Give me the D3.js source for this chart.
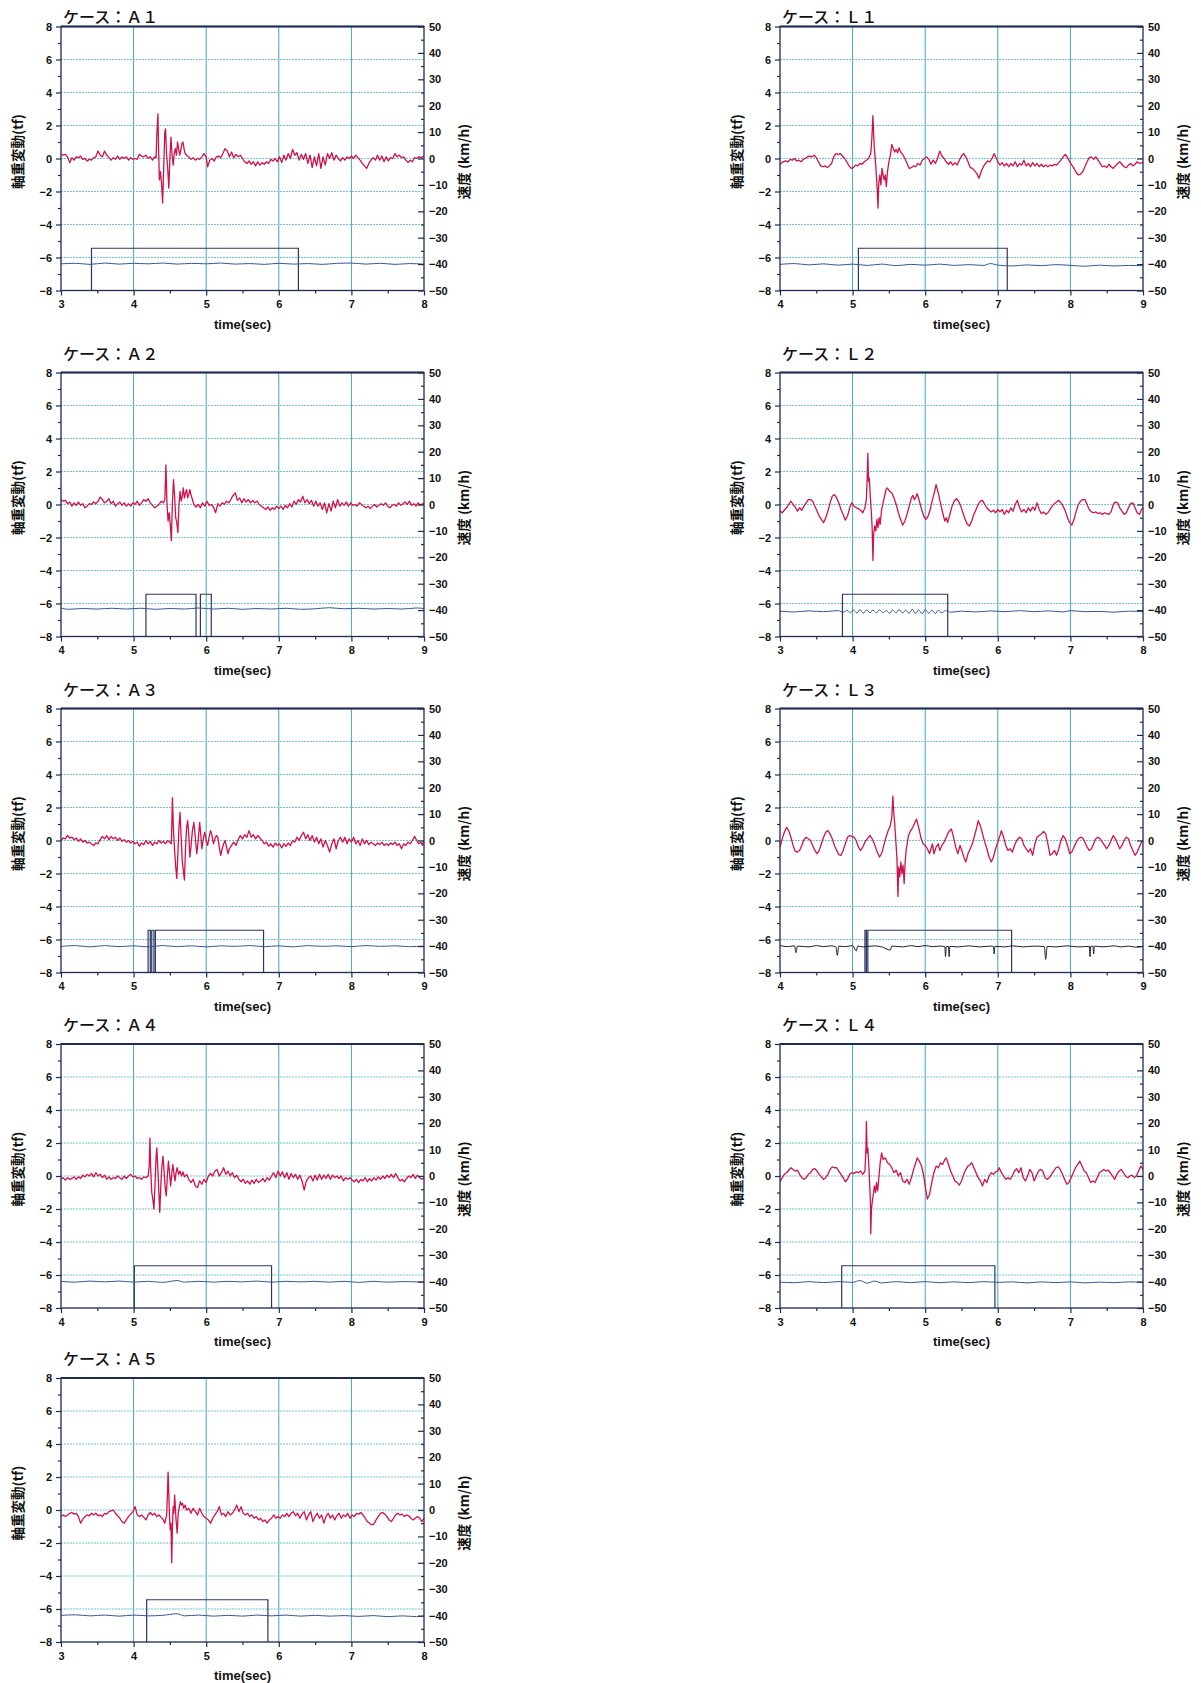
<!DOCTYPE html>
<html><head><meta charset="utf-8">
<script src="https://cdn.jsdelivr.net/npm/d3@7/dist/d3.min.js"></script>
<style>body{margin:0;background:#fff}svg{display:block}</style>
</head><body>
<svg id="chart" width="1201" height="1683"></svg>
<script>
// ---------- DATA ----------
const caseTitles = ["ケース：Ａ１","ケース：Ｌ１","ケース：Ａ２","ケース：Ｌ２","ケース：Ａ３","ケース：Ｌ３","ケース：Ａ４","ケース：Ｌ４","ケース：Ａ５"];
const timeRanges = [[3,8],[4,9],[4,9],[3,8],[4,9],[4,9],[4,9],[3,8],[3,8]];
const leftTicks = [-8,-6,-4,-2,0,2,4,6,8];
const rightTicks = [-50,-40,-30,-20,-10,0,10,20,30,40,50];
const gateLevel = -34; // km/h

// axle-load variation (tf): [time, value]
const sigA1 = [[3.00,0.25],[3.03,0.2],[3.06,0.25],[3.09,0.1],[3.12,-0.25],[3.15,0.05],[3.18,-0.1],[3.21,0.1],[3.24,0.05],[3.27,0.15],[3.30,-0.05],[3.33,0.0],[3.36,-0.15],[3.39,-0.05],[3.42,-0.1],[3.45,0.05],[3.48,0.1],[3.51,0.45],[3.54,0.2],[3.57,0.1],[3.60,0.45],[3.63,0.2],[3.66,0.05],[3.69,-0.1],[3.72,0.05],[3.75,-0.05],[3.78,0.15],[3.81,-0.05],[3.84,0.1],[3.87,0.0],[3.90,0.1],[3.93,-0.1],[3.96,0.05],[3.99,-0.05],[4.02,0.0],[4.05,-0.05],[4.08,0.25],[4.11,0.15],[4.14,0.1],[4.17,0.2],[4.20,0.0],[4.23,0.1],[4.26,-0.1],[4.29,0.1],[4.31,0.05],[4.32,1.5],[4.335,2.7],[4.345,0.5],[4.355,-1.3],[4.37,-0.8],[4.385,-1.5],[4.40,-2.7],[4.415,-0.5],[4.43,1.6],[4.44,1.8],[4.455,0.2],[4.47,-0.6],[4.485,-1.8],[4.50,0.0],[4.515,1.3],[4.53,0.2],[4.545,-0.4],[4.56,0.3],[4.575,0.6],[4.59,0.2],[4.605,1.0],[4.62,0.6],[4.635,0.2],[4.65,0.5],[4.665,0.9],[4.68,1.0],[4.695,0.6],[4.71,0.3],[4.73,0.2],[4.76,0.1],[4.79,-0.05],[4.82,0.05],[4.85,-0.1],[4.88,0.0],[4.91,-0.05],[4.94,0.1],[4.97,0.3],[5.00,0.1],[5.02,-0.5],[5.05,-0.1],[5.08,0.0],[5.11,-0.15],[5.14,0.1],[5.17,0.15],[5.20,0.05],[5.23,0.3],[5.26,0.6],[5.29,0.45],[5.32,0.1],[5.35,0.4],[5.38,0.05],[5.41,0.25],[5.44,0.1],[5.47,0.2],[5.50,0.0],[5.53,-0.2],[5.56,-0.3],[5.59,-0.15],[5.62,-0.35],[5.65,-0.2],[5.68,-0.45],[5.71,-0.2],[5.74,-0.4],[5.77,-0.25],[5.80,-0.35],[5.83,-0.2],[5.86,-0.3],[5.89,-0.05],[5.92,-0.15],[5.95,0.0],[5.98,-0.2],[6.01,0.1],[6.04,-0.25],[6.07,0.2],[6.10,-0.1],[6.13,0.3],[6.16,0.0],[6.19,0.55],[6.22,0.2],[6.25,0.35],[6.28,-0.1],[6.31,0.25],[6.34,-0.05],[6.37,0.3],[6.40,-0.3],[6.43,0.2],[6.46,-0.55],[6.49,0.1],[6.52,-0.45],[6.55,0.3],[6.58,-0.6],[6.61,0.1],[6.64,-0.4],[6.67,0.3],[6.70,0.0],[6.73,0.35],[6.76,-0.1],[6.79,0.2],[6.82,0.0],[6.85,-0.15],[6.88,0.05],[6.91,-0.1],[6.94,0.1],[6.97,0.0],[7.00,0.15],[7.03,0.0],[7.06,0.2],[7.09,0.05],[7.12,-0.1],[7.15,-0.3],[7.18,-0.45],[7.21,-0.6],[7.24,-0.3],[7.27,-0.1],[7.30,0.05],[7.33,-0.1],[7.36,0.2],[7.39,-0.1],[7.42,0.15],[7.45,-0.2],[7.48,0.1],[7.51,-0.15],[7.54,0.05],[7.57,0.0],[7.60,0.3],[7.63,0.1],[7.66,0.2],[7.69,0.05],[7.72,0.1],[7.75,-0.1],[7.78,-0.25],[7.81,-0.1],[7.84,-0.2],[7.87,0.05],[7.90,0.0],[7.93,0.1],[7.96,0.05],[8.00,0.15]];
const sigL1 = [[4.00,-0.35],[4.04,-0.2],[4.08,-0.15],[4.11,-0.2],[4.14,-0.05],[4.17,-0.1],[4.20,0.0],[4.23,-0.15],[4.26,-0.1],[4.29,-0.2],[4.32,-0.05],[4.35,0.0],[4.38,0.1],[4.41,0.15],[4.44,0.1],[4.47,0.2],[4.50,0.05],[4.53,-0.2],[4.56,-0.45],[4.59,-0.5],[4.62,-0.45],[4.65,-0.55],[4.68,-0.45],[4.71,-0.3],[4.74,0.1],[4.77,0.3],[4.80,0.25],[4.83,0.3],[4.86,0.15],[4.89,0.0],[4.92,-0.2],[4.95,-0.45],[4.98,-0.6],[5.01,-0.55],[5.04,-0.4],[5.07,-0.45],[5.10,-0.3],[5.13,-0.35],[5.16,-0.2],[5.19,-0.1],[5.22,0.0],[5.25,0.3],[5.265,1.2],[5.28,2.6],[5.29,1.5],[5.30,0.6],[5.315,-0.2],[5.33,-1.2],[5.34,-2.0],[5.35,-3.0],[5.36,-1.5],[5.375,-1.0],[5.39,-1.6],[5.405,-0.6],[5.42,-1.0],[5.435,-1.3],[5.45,-1.0],[5.465,-1.7],[5.48,-0.8],[5.50,-0.2],[5.52,0.2],[5.54,0.85],[5.56,0.6],[5.58,0.4],[5.60,0.55],[5.62,0.35],[5.64,0.65],[5.66,0.4],[5.69,0.25],[5.72,0.0],[5.75,-0.3],[5.78,-0.6],[5.81,-0.55],[5.84,-0.45],[5.87,-0.5],[5.90,-0.3],[5.93,-0.4],[5.96,-0.1],[5.99,0.0],[6.02,0.1],[6.05,-0.05],[6.08,-0.35],[6.11,-0.1],[6.14,-0.3],[6.17,0.0],[6.20,0.45],[6.23,0.15],[6.26,0.0],[6.29,-0.2],[6.32,-0.35],[6.35,-0.2],[6.38,-0.4],[6.41,-0.25],[6.44,-0.4],[6.47,-0.1],[6.50,0.15],[6.53,0.3],[6.56,0.1],[6.59,-0.2],[6.62,-0.55],[6.65,-0.6],[6.68,-0.75],[6.71,-0.9],[6.74,-1.2],[6.77,-0.8],[6.80,-0.5],[6.83,-0.3],[6.86,-0.15],[6.89,-0.2],[6.92,0.0],[6.95,0.3],[6.97,0.1],[7.00,-0.2],[7.03,-0.4],[7.06,-0.25],[7.09,-0.45],[7.12,-0.3],[7.15,-0.5],[7.18,-0.3],[7.21,-0.45],[7.24,-0.2],[7.27,-0.5],[7.30,-0.3],[7.33,-0.4],[7.36,-0.1],[7.39,-0.45],[7.42,-0.3],[7.45,-0.5],[7.48,-0.25],[7.51,-0.45],[7.54,-0.3],[7.57,-0.5],[7.60,-0.35],[7.63,-0.5],[7.66,-0.4],[7.69,-0.5],[7.72,-0.4],[7.75,-0.45],[7.78,-0.35],[7.81,-0.4],[7.84,-0.25],[7.87,-0.1],[7.90,0.1],[7.93,0.25],[7.96,0.05],[7.99,-0.2],[8.02,-0.4],[8.05,-0.6],[8.08,-0.85],[8.11,-1.0],[8.14,-0.95],[8.17,-0.8],[8.20,-0.5],[8.23,-0.2],[8.26,0.05],[8.29,0.1],[8.32,-0.05],[8.35,0.1],[8.38,-0.1],[8.41,-0.3],[8.44,-0.5],[8.47,-0.45],[8.50,-0.55],[8.53,-0.35],[8.56,-0.5],[8.59,-0.6],[8.62,-0.45],[8.65,-0.3],[8.68,-0.2],[8.71,-0.35],[8.74,-0.5],[8.77,-0.55],[8.80,-0.4],[8.83,-0.3],[8.86,-0.45],[8.89,-0.35],[8.92,-0.2],[8.95,-0.3],[9.00,-0.25]];
const sigA2 = [[4.00,0.3],[4.03,0.2],[4.06,0.25],[4.09,0.05],[4.12,0.15],[4.15,-0.1],[4.18,0.1],[4.21,-0.05],[4.24,0.15],[4.27,-0.05],[4.30,0.05],[4.33,-0.2],[4.36,-0.1],[4.39,0.05],[4.42,0.0],[4.45,0.15],[4.48,0.05],[4.51,0.2],[4.54,0.45],[4.57,0.3],[4.60,0.1],[4.63,0.2],[4.66,0.35],[4.69,0.05],[4.72,0.2],[4.75,-0.1],[4.78,0.05],[4.81,0.15],[4.84,-0.05],[4.87,0.1],[4.90,-0.1],[4.93,0.05],[4.96,-0.1],[4.99,0.1],[5.02,0.0],[5.05,0.2],[5.08,-0.05],[5.11,0.1],[5.14,0.3],[5.17,0.2],[5.20,0.35],[5.23,0.1],[5.26,-0.05],[5.29,-0.2],[5.32,-0.1],[5.35,0.0],[5.38,0.2],[5.41,0.1],[5.43,0.3],[5.445,2.4],[5.46,0.0],[5.475,-1.0],[5.49,-0.5],[5.505,-1.2],[5.52,-2.2],[5.535,0.2],[5.55,1.5],[5.565,0.5],[5.58,-0.8],[5.595,-1.1],[5.61,-1.7],[5.625,0.0],[5.64,0.8],[5.655,0.2],[5.67,0.5],[5.685,1.0],[5.70,0.4],[5.715,0.7],[5.73,0.9],[5.745,0.4],[5.76,0.6],[5.775,0.9],[5.79,0.6],[5.81,0.3],[5.83,0.0],[5.86,-0.15],[5.89,0.0],[5.92,-0.2],[5.95,0.1],[5.98,-0.1],[6.01,0.2],[6.04,-0.05],[6.07,0.0],[6.10,-0.15],[6.13,-0.5],[6.16,0.05],[6.19,-0.1],[6.22,0.1],[6.25,0.0],[6.28,0.2],[6.31,0.1],[6.34,0.3],[6.37,0.55],[6.40,0.7],[6.43,0.25],[6.46,0.4],[6.49,0.1],[6.52,0.35],[6.55,0.15],[6.58,0.3],[6.61,0.1],[6.64,0.25],[6.67,0.1],[6.70,0.2],[6.73,0.0],[6.76,-0.1],[6.79,-0.2],[6.82,-0.3],[6.85,-0.15],[6.88,-0.35],[6.91,-0.2],[6.94,-0.3],[6.97,-0.1],[7.00,-0.25],[7.03,-0.1],[7.06,-0.3],[7.09,-0.05],[7.12,-0.2],[7.15,0.05],[7.18,-0.15],[7.21,0.2],[7.24,0.0],[7.27,0.3],[7.30,0.15],[7.33,0.5],[7.36,0.1],[7.39,0.3],[7.42,0.05],[7.45,0.25],[7.48,-0.1],[7.51,0.2],[7.54,-0.1],[7.57,0.1],[7.60,-0.3],[7.63,0.1],[7.66,-0.5],[7.69,0.05],[7.72,-0.4],[7.75,0.2],[7.78,-0.2],[7.81,0.3],[7.84,-0.1],[7.87,0.1],[7.90,-0.05],[7.93,0.15],[7.96,-0.1],[7.99,0.1],[8.02,-0.05],[8.05,0.0],[8.08,-0.1],[8.11,0.1],[8.14,0.0],[8.17,-0.1],[8.20,-0.2],[8.23,-0.1],[8.26,-0.25],[8.29,-0.1],[8.32,0.0],[8.35,-0.15],[8.38,-0.05],[8.41,0.05],[8.44,-0.05],[8.47,0.1],[8.50,-0.1],[8.53,-0.2],[8.56,-0.05],[8.59,0.0],[8.62,-0.1],[8.65,0.1],[8.68,-0.05],[8.71,0.05],[8.74,0.15],[8.77,0.0],[8.80,0.2],[8.83,-0.05],[8.86,0.05],[8.89,-0.1],[8.92,0.1],[8.95,-0.05],[8.98,0.05],[9.00,0.0]];
const sigL2 = [[3.00,-0.4],[3.03,-0.5],[3.06,-0.35],[3.09,-0.2],[3.12,0.0],[3.15,0.2],[3.18,0.0],[3.21,-0.15],[3.24,-0.4],[3.27,-0.2],[3.30,-0.35],[3.33,-0.1],[3.36,0.1],[3.39,0.3],[3.42,0.3],[3.45,0.2],[3.48,-0.1],[3.51,-0.4],[3.54,-0.7],[3.57,-0.9],[3.60,-1.1],[3.63,-0.8],[3.66,-0.4],[3.69,0.1],[3.72,0.5],[3.75,0.6],[3.78,0.4],[3.81,0.1],[3.84,-0.3],[3.87,-0.6],[3.90,-0.95],[3.93,-0.7],[3.96,-0.2],[3.99,0.1],[4.02,-0.1],[4.05,-0.2],[4.08,-0.25],[4.11,-0.35],[4.14,-0.5],[4.17,-0.2],[4.19,0.3],[4.20,1.5],[4.21,3.1],[4.22,1.4],[4.23,1.6],[4.245,0.4],[4.26,-0.6],[4.27,-1.5],[4.28,-3.4],[4.29,-1.8],[4.305,-1.3],[4.32,-1.6],[4.335,-0.9],[4.35,-1.4],[4.365,-0.8],[4.38,-1.2],[4.40,-0.3],[4.43,0.3],[4.46,0.9],[4.48,1.0],[4.51,0.8],[4.54,0.7],[4.57,0.4],[4.60,0.0],[4.63,-0.5],[4.66,-0.9],[4.69,-1.25],[4.72,-1.0],[4.75,-0.6],[4.78,-0.1],[4.81,0.4],[4.83,0.55],[4.85,0.3],[4.87,0.45],[4.89,0.65],[4.92,0.2],[4.95,-0.3],[4.98,-0.7],[5.01,-0.9],[5.04,-0.7],[5.07,-0.3],[5.10,0.3],[5.13,0.8],[5.15,1.2],[5.18,0.7],[5.21,0.1],[5.24,-0.5],[5.27,-1.0],[5.29,-0.8],[5.31,-1.1],[5.34,-0.6],[5.37,-0.1],[5.40,0.2],[5.43,0.35],[5.46,0.2],[5.49,-0.1],[5.52,-0.5],[5.55,-0.9],[5.58,-1.2],[5.61,-1.3],[5.64,-1.0],[5.67,-0.6],[5.70,-0.3],[5.73,0.0],[5.76,0.2],[5.79,0.25],[5.82,0.0],[5.85,-0.2],[5.88,-0.35],[5.91,-0.45],[5.94,-0.35],[5.97,-0.5],[6.00,-0.3],[6.03,-0.45],[6.06,-0.3],[6.09,-0.6],[6.12,-0.35],[6.15,-0.5],[6.18,-0.2],[6.21,-0.4],[6.24,0.0],[6.27,0.25],[6.30,-0.2],[6.33,-0.45],[6.36,-0.3],[6.39,-0.5],[6.42,-0.2],[6.45,-0.4],[6.48,-0.15],[6.51,-0.35],[6.54,0.1],[6.57,-0.3],[6.60,-0.55],[6.63,-0.45],[6.66,-0.6],[6.69,-0.5],[6.72,-0.3],[6.75,-0.1],[6.78,0.05],[6.81,0.15],[6.84,0.25],[6.87,0.1],[6.90,-0.1],[6.93,-0.4],[6.96,-0.8],[6.99,-1.1],[7.02,-1.25],[7.05,-0.9],[7.08,-0.4],[7.11,0.0],[7.14,0.2],[7.17,0.3],[7.20,0.3],[7.23,0.0],[7.26,-0.3],[7.29,-0.45],[7.32,-0.5],[7.35,-0.45],[7.38,-0.55],[7.41,-0.5],[7.44,-0.6],[7.47,-0.5],[7.50,-0.55],[7.53,-0.6],[7.56,-0.45],[7.59,0.0],[7.62,0.15],[7.65,0.1],[7.68,-0.2],[7.71,-0.4],[7.74,-0.6],[7.77,-0.5],[7.80,-0.2],[7.83,0.05],[7.86,0.1],[7.89,-0.2],[7.92,-0.5],[7.95,-0.6],[7.98,-0.3],[8.00,-0.2]];
const sigA3 = [[4.00,0.0],[4.03,0.15],[4.06,0.1],[4.09,0.3],[4.12,0.15],[4.15,0.2],[4.18,0.05],[4.21,0.15],[4.24,-0.05],[4.27,0.1],[4.30,-0.1],[4.33,0.0],[4.36,-0.15],[4.39,-0.1],[4.42,-0.2],[4.45,-0.3],[4.48,-0.15],[4.51,-0.2],[4.54,0.05],[4.57,0.25],[4.60,0.1],[4.63,0.3],[4.66,0.05],[4.69,0.25],[4.72,0.1],[4.75,0.2],[4.78,0.0],[4.81,0.15],[4.84,-0.05],[4.87,0.05],[4.90,-0.1],[4.93,0.0],[4.96,-0.15],[4.99,-0.05],[5.02,-0.2],[5.05,-0.1],[5.08,-0.35],[5.11,-0.15],[5.14,-0.25],[5.17,0.0],[5.20,-0.2],[5.23,-0.05],[5.26,-0.3],[5.29,-0.1],[5.32,-0.2],[5.35,0.0],[5.38,-0.15],[5.41,-0.05],[5.44,-0.2],[5.47,0.0],[5.50,-0.1],[5.52,-0.2],[5.535,2.6],[5.55,0.5],[5.565,-0.6],[5.58,-1.6],[5.595,-2.3],[5.61,-0.8],[5.625,0.8],[5.64,1.7],[5.655,0.2],[5.67,-1.2],[5.685,-1.8],[5.70,-2.4],[5.715,-0.5],[5.73,0.8],[5.745,1.2],[5.76,0.3],[5.775,-1.0],[5.79,-0.4],[5.81,0.6],[5.83,1.1],[5.85,0.2],[5.87,-0.8],[5.89,0.0],[5.91,1.1],[5.925,0.4],[5.94,-0.5],[5.96,0.1],[5.98,0.5],[6.00,0.0],[6.02,-0.3],[6.04,0.2],[6.06,0.6],[6.08,0.3],[6.10,-0.2],[6.12,0.1],[6.14,0.3],[6.16,0.2],[6.18,-0.4],[6.20,-0.9],[6.22,-0.5],[6.24,-0.2],[6.26,0.0],[6.28,-0.4],[6.30,-0.8],[6.32,-0.5],[6.35,-0.3],[6.38,-0.1],[6.41,-0.3],[6.44,0.05],[6.47,0.3],[6.50,0.1],[6.53,0.35],[6.56,0.2],[6.59,0.6],[6.62,0.2],[6.65,0.35],[6.68,0.1],[6.71,0.3],[6.74,0.15],[6.77,0.0],[6.80,-0.2],[6.83,-0.1],[6.86,-0.35],[6.89,-0.2],[6.92,-0.4],[6.95,-0.15],[6.98,-0.3],[7.01,-0.2],[7.04,-0.45],[7.07,-0.2],[7.10,-0.35],[7.13,-0.15],[7.16,-0.3],[7.19,0.0],[7.22,-0.1],[7.25,0.2],[7.28,0.0],[7.31,0.3],[7.34,0.5],[7.37,0.1],[7.40,0.35],[7.43,0.0],[7.46,0.3],[7.49,-0.1],[7.52,0.2],[7.55,-0.2],[7.58,0.1],[7.61,-0.4],[7.64,0.0],[7.67,-0.3],[7.70,-0.7],[7.73,-0.2],[7.76,0.1],[7.79,-0.5],[7.82,0.0],[7.85,0.2],[7.88,-0.1],[7.91,0.2],[7.94,-0.2],[7.97,0.1],[8.00,-0.1],[8.03,0.2],[8.06,-0.2],[8.09,0.0],[8.12,-0.3],[8.15,0.1],[8.18,-0.2],[8.21,0.0],[8.24,-0.25],[8.27,-0.1],[8.30,-0.2],[8.33,-0.3],[8.36,-0.15],[8.39,-0.25],[8.42,-0.1],[8.45,-0.3],[8.48,-0.2],[8.51,-0.3],[8.54,-0.15],[8.57,-0.25],[8.60,-0.1],[8.63,-0.3],[8.66,-0.2],[8.69,-0.5],[8.72,-0.2],[8.75,-0.3],[8.78,-0.1],[8.81,-0.2],[8.84,0.0],[8.87,0.25],[8.90,0.0],[8.93,-0.2],[8.96,-0.1],[8.98,-0.3],[9.00,0.0]];
const sigL3 = [[4.00,-0.4],[4.03,0.1],[4.06,0.5],[4.09,0.8],[4.12,0.6],[4.15,0.2],[4.18,-0.3],[4.21,-0.65],[4.24,-0.7],[4.27,-0.6],[4.30,-0.3],[4.33,0.05],[4.36,0.2],[4.39,0.1],[4.42,0.0],[4.45,-0.3],[4.48,-0.6],[4.51,-0.8],[4.54,-0.6],[4.57,-0.2],[4.60,0.2],[4.63,0.5],[4.66,0.6],[4.69,0.4],[4.72,0.1],[4.75,-0.3],[4.78,-0.6],[4.81,-0.85],[4.84,-0.9],[4.87,-0.6],[4.90,-0.2],[4.93,0.2],[4.96,0.3],[4.99,0.25],[5.02,0.2],[5.05,0.0],[5.08,-0.4],[5.11,-0.6],[5.14,-0.4],[5.17,-0.1],[5.20,0.1],[5.24,0.3],[5.27,0.1],[5.30,-0.2],[5.33,-0.6],[5.37,-1.0],[5.40,-0.8],[5.43,-0.3],[5.46,0.2],[5.49,0.6],[5.52,0.9],[5.54,1.4],[5.555,2.7],[5.565,1.8],[5.58,1.0],[5.595,0.0],[5.61,-1.0],[5.625,-3.4],[5.635,-1.6],[5.65,-2.2],[5.665,-1.3],[5.68,-2.0],[5.695,-1.5],[5.71,-2.6],[5.725,-1.2],[5.74,-0.5],[5.77,0.3],[5.80,0.6],[5.83,0.8],[5.86,1.1],[5.88,1.3],[5.91,0.8],[5.94,0.2],[5.97,-0.2],[6.00,-0.3],[6.03,-0.5],[6.06,-0.8],[6.08,-0.5],[6.10,-0.2],[6.12,-0.8],[6.15,-0.4],[6.18,-0.2],[6.20,-0.6],[6.23,-0.3],[6.26,-0.1],[6.29,0.2],[6.32,0.5],[6.36,0.7],[6.39,0.2],[6.42,-0.4],[6.45,-0.8],[6.48,-0.3],[6.51,-0.7],[6.54,-1.1],[6.56,-1.3],[6.59,-0.8],[6.62,-0.5],[6.65,-0.2],[6.68,0.3],[6.71,0.8],[6.73,1.2],[6.76,0.9],[6.79,0.4],[6.82,-0.1],[6.85,-0.5],[6.88,-1.0],[6.91,-1.3],[6.94,-1.0],[6.97,-0.5],[7.00,-0.1],[7.03,0.3],[7.05,0.6],[7.08,0.2],[7.11,-0.3],[7.14,-0.6],[7.17,-0.5],[7.20,-0.7],[7.23,-0.3],[7.26,0.0],[7.30,0.2],[7.33,0.1],[7.36,-0.3],[7.39,-0.5],[7.42,-0.7],[7.45,-0.5],[7.48,-0.9],[7.51,-0.2],[7.54,0.2],[7.57,0.3],[7.60,0.4],[7.63,0.55],[7.66,0.4],[7.69,-0.2],[7.72,-0.9],[7.75,-0.8],[7.78,-0.6],[7.81,-0.9],[7.84,-0.5],[7.87,0.0],[7.90,0.3],[7.93,0.1],[7.96,-0.3],[7.99,-0.8],[8.02,-0.7],[8.05,-0.4],[8.08,-0.1],[8.11,0.1],[8.14,0.2],[8.17,0.15],[8.20,-0.1],[8.23,-0.4],[8.26,-0.6],[8.29,-0.5],[8.32,-0.2],[8.35,0.1],[8.38,0.2],[8.41,0.1],[8.44,-0.1],[8.47,-0.3],[8.50,-0.5],[8.53,-0.3],[8.56,0.0],[8.59,0.3],[8.62,0.1],[8.65,-0.2],[8.68,-0.5],[8.71,-0.3],[8.74,0.0],[8.77,0.2],[8.80,0.1],[8.83,-0.3],[8.86,-0.6],[8.89,-0.9],[8.92,-0.7],[8.95,-0.4],[8.98,-0.1],[9.00,0.0]];
const sigA4 = [[4.00,-0.2],[4.03,-0.1],[4.06,-0.25],[4.09,-0.1],[4.12,-0.2],[4.15,-0.15],[4.18,-0.05],[4.21,-0.2],[4.24,-0.05],[4.27,-0.15],[4.30,0.05],[4.33,-0.05],[4.36,0.1],[4.39,0.0],[4.42,0.15],[4.45,-0.05],[4.48,0.2],[4.51,0.0],[4.54,0.1],[4.57,-0.1],[4.60,0.05],[4.63,-0.2],[4.66,-0.05],[4.69,-0.2],[4.72,-0.1],[4.75,-0.15],[4.78,0.0],[4.81,-0.1],[4.84,-0.2],[4.87,0.0],[4.90,-0.15],[4.93,0.0],[4.96,0.1],[4.99,-0.05],[5.02,0.0],[5.05,-0.15],[5.08,-0.1],[5.11,-0.2],[5.14,-0.05],[5.17,-0.1],[5.20,0.0],[5.215,0.6],[5.225,2.3],[5.235,0.5],[5.25,-1.0],[5.265,-1.4],[5.28,-2.0],[5.295,-0.5],[5.31,1.2],[5.32,1.7],[5.335,0.3],[5.35,-1.2],[5.36,-2.2],[5.375,-0.6],[5.39,0.6],[5.405,1.2],[5.42,0.3],[5.435,-0.7],[5.45,-1.2],[5.465,0.0],[5.48,0.9],[5.495,0.2],[5.51,-0.6],[5.525,0.1],[5.54,0.7],[5.555,0.2],[5.57,-0.3],[5.585,0.2],[5.60,0.5],[5.62,0.1],[5.64,0.3],[5.66,0.0],[5.68,0.25],[5.70,-0.05],[5.73,0.1],[5.76,-0.2],[5.79,-0.4],[5.82,-0.2],[5.85,-0.6],[5.88,-0.7],[5.91,-0.3],[5.94,-0.5],[5.97,-0.2],[6.00,-0.4],[6.03,0.0],[6.06,0.15],[6.09,0.0],[6.12,0.3],[6.15,0.4],[6.18,0.0],[6.21,0.2],[6.24,0.5],[6.27,0.1],[6.30,0.3],[6.33,0.0],[6.36,0.2],[6.39,-0.1],[6.42,0.05],[6.45,-0.2],[6.48,-0.35],[6.51,-0.2],[6.54,-0.45],[6.57,-0.3],[6.60,-0.5],[6.63,-0.25],[6.66,-0.45],[6.69,-0.2],[6.72,-0.4],[6.75,-0.3],[6.78,-0.15],[6.81,-0.35],[6.84,-0.1],[6.87,-0.25],[6.90,0.0],[6.93,0.2],[6.96,-0.1],[6.99,0.3],[7.02,0.0],[7.05,0.25],[7.08,-0.1],[7.11,0.2],[7.14,-0.2],[7.17,0.15],[7.20,-0.1],[7.23,0.1],[7.26,-0.2],[7.29,0.05],[7.32,-0.3],[7.35,-0.85],[7.38,-0.3],[7.41,-0.1],[7.44,0.0],[7.47,-0.3],[7.50,0.05],[7.53,-0.25],[7.56,0.1],[7.59,-0.2],[7.62,0.05],[7.65,-0.15],[7.68,0.1],[7.71,-0.2],[7.74,0.05],[7.77,-0.1],[7.80,0.0],[7.83,-0.15],[7.86,0.0],[7.89,-0.3],[7.92,-0.1],[7.95,-0.2],[7.98,-0.1],[8.01,-0.25],[8.04,-0.35],[8.07,-0.2],[8.10,-0.4],[8.13,-0.2],[8.16,-0.3],[8.19,-0.1],[8.22,-0.35],[8.25,-0.15],[8.28,-0.3],[8.31,-0.1],[8.34,-0.25],[8.37,-0.05],[8.40,-0.2],[8.43,0.0],[8.46,-0.15],[8.49,0.05],[8.52,-0.1],[8.55,0.1],[8.58,-0.1],[8.61,0.15],[8.64,-0.1],[8.67,-0.3],[8.70,-0.2],[8.73,-0.35],[8.76,-0.15],[8.79,0.0],[8.82,-0.1],[8.85,0.1],[8.88,-0.15],[8.91,0.05],[8.94,-0.1],[8.97,-0.2],[9.00,-0.1]];
const sigL4 = [[3.00,-0.35],[3.03,-0.1],[3.06,0.1],[3.09,0.2],[3.12,0.35],[3.15,0.5],[3.18,0.4],[3.21,0.3],[3.24,0.35],[3.27,0.1],[3.30,-0.1],[3.33,-0.2],[3.36,-0.1],[3.39,0.1],[3.42,0.2],[3.45,0.4],[3.48,0.45],[3.51,0.3],[3.54,0.1],[3.57,-0.05],[3.60,-0.2],[3.63,-0.1],[3.66,0.1],[3.69,0.4],[3.72,0.55],[3.75,0.5],[3.78,0.5],[3.81,0.3],[3.84,0.1],[3.87,-0.1],[3.90,-0.35],[3.93,-0.2],[3.96,0.1],[3.99,0.2],[4.02,0.15],[4.05,0.25],[4.08,0.2],[4.11,0.3],[4.14,0.1],[4.17,0.3],[4.185,1.8],[4.19,3.3],[4.20,1.4],[4.21,1.7],[4.225,0.5],[4.235,-0.5],[4.245,-1.5],[4.25,-3.5],[4.26,-2.0],[4.275,-1.4],[4.29,-1.0],[4.30,-0.6],[4.315,-1.0],[4.33,-0.4],[4.345,-0.9],[4.36,-0.2],[4.38,0.8],[4.40,1.4],[4.42,1.0],[4.45,1.1],[4.48,0.8],[4.51,0.7],[4.54,0.5],[4.57,0.2],[4.60,0.35],[4.63,0.0],[4.66,0.2],[4.69,-0.3],[4.72,-0.4],[4.75,-0.2],[4.78,-0.5],[4.81,-0.1],[4.84,0.4],[4.87,0.8],[4.89,1.1],[4.92,0.9],[4.95,0.6],[4.98,0.0],[5.01,-0.9],[5.03,-1.4],[5.06,-1.1],[5.09,-0.4],[5.12,0.2],[5.15,0.6],[5.18,0.5],[5.21,0.8],[5.24,0.7],[5.27,1.0],[5.29,1.1],[5.32,0.7],[5.35,0.3],[5.38,0.0],[5.41,-0.3],[5.44,-0.4],[5.47,-0.55],[5.50,-0.3],[5.53,0.1],[5.56,0.4],[5.59,0.6],[5.62,0.7],[5.64,0.8],[5.67,0.5],[5.70,0.2],[5.73,-0.1],[5.76,-0.3],[5.79,-0.6],[5.82,-0.2],[5.85,-0.4],[5.88,0.0],[5.91,0.2],[5.94,0.1],[5.97,0.25],[6.00,0.3],[6.02,0.5],[6.05,0.2],[6.08,0.0],[6.11,-0.2],[6.14,-0.1],[6.17,-0.2],[6.20,0.0],[6.23,0.3],[6.26,0.45],[6.29,0.2],[6.32,0.5],[6.35,-0.1],[6.38,-0.3],[6.41,0.0],[6.44,0.4],[6.47,0.2],[6.50,-0.3],[6.53,0.0],[6.56,0.3],[6.59,0.4],[6.62,0.3],[6.65,-0.1],[6.68,-0.2],[6.71,-0.1],[6.74,0.1],[6.77,0.3],[6.80,0.5],[6.83,0.55],[6.86,0.4],[6.89,0.1],[6.92,-0.2],[6.95,-0.5],[6.98,-0.4],[7.01,-0.1],[7.04,0.2],[7.07,0.5],[7.10,0.7],[7.13,0.9],[7.16,0.6],[7.19,0.3],[7.22,0.2],[7.25,-0.1],[7.28,-0.4],[7.31,-0.3],[7.34,-0.4],[7.37,-0.1],[7.40,0.2],[7.43,0.3],[7.46,0.4],[7.49,0.3],[7.52,0.35],[7.55,0.2],[7.58,0.0],[7.61,-0.2],[7.64,0.1],[7.67,0.3],[7.70,0.4],[7.73,0.2],[7.76,0.0],[7.79,-0.1],[7.82,0.0],[7.85,0.05],[7.88,-0.1],[7.91,0.0],[7.94,0.3],[7.97,0.6],[8.00,0.4]];
const sigA5 = [[3.00,-0.4],[3.03,-0.3],[3.06,-0.4],[3.09,-0.3],[3.12,-0.2],[3.15,-0.15],[3.18,-0.25],[3.21,-0.2],[3.24,-0.4],[3.27,-0.8],[3.30,-0.55],[3.33,-0.4],[3.36,-0.3],[3.39,-0.35],[3.42,-0.2],[3.45,-0.3],[3.48,-0.2],[3.51,-0.35],[3.54,-0.3],[3.57,-0.4],[3.60,-0.2],[3.63,-0.25],[3.66,-0.1],[3.69,-0.05],[3.72,0.0],[3.75,-0.2],[3.78,-0.35],[3.81,-0.5],[3.84,-0.7],[3.87,-0.8],[3.90,-0.6],[3.93,-0.4],[3.96,-0.25],[3.99,-0.1],[4.02,0.2],[4.05,-0.3],[4.08,-0.4],[4.11,-0.3],[4.14,-0.45],[4.17,-0.6],[4.20,-0.3],[4.23,-0.15],[4.26,-0.3],[4.29,-0.2],[4.32,-0.4],[4.35,-0.3],[4.38,-0.45],[4.41,-0.6],[4.43,-0.8],[4.455,-0.3],[4.465,0.8],[4.475,2.3],[4.485,1.0],[4.495,-0.4],[4.505,-1.2],[4.515,-0.8],[4.525,-3.2],[4.535,-1.0],[4.545,0.2],[4.555,-0.2],[4.565,0.9],[4.575,0.2],[4.585,-0.6],[4.60,-1.4],[4.615,-0.2],[4.63,0.2],[4.645,0.5],[4.66,0.3],[4.675,0.4],[4.69,0.1],[4.71,0.3],[4.73,0.0],[4.76,0.1],[4.79,-0.2],[4.82,0.1],[4.85,-0.1],[4.88,-0.3],[4.91,0.1],[4.94,-0.2],[4.97,-0.4],[5.00,-0.5],[5.03,-0.6],[5.06,-0.8],[5.09,-0.5],[5.12,-0.3],[5.15,-0.1],[5.18,0.2],[5.21,-0.3],[5.24,-0.2],[5.27,-0.4],[5.30,-0.1],[5.33,-0.3],[5.36,-0.2],[5.39,0.0],[5.42,0.3],[5.45,-0.1],[5.48,0.2],[5.51,-0.2],[5.54,-0.3],[5.57,-0.2],[5.60,-0.4],[5.63,-0.3],[5.66,-0.5],[5.69,-0.4],[5.72,-0.6],[5.75,-0.5],[5.78,-0.7],[5.81,-0.6],[5.84,-0.8],[5.87,-0.6],[5.90,-0.5],[5.93,-0.3],[5.96,-0.5],[5.99,-0.4],[6.02,-0.5],[6.05,-0.3],[6.08,-0.4],[6.11,-0.2],[6.14,-0.4],[6.17,-0.2],[6.20,-0.1],[6.23,-0.35],[6.26,-0.2],[6.29,-0.5],[6.32,-0.25],[6.35,-0.1],[6.38,-0.6],[6.41,-0.3],[6.44,-0.1],[6.47,-0.7],[6.50,-0.4],[6.53,-0.2],[6.56,-0.5],[6.59,-0.3],[6.62,-0.8],[6.65,-0.4],[6.68,-0.2],[6.71,-0.5],[6.74,-0.3],[6.77,-0.6],[6.80,-0.35],[6.83,-0.2],[6.86,-0.5],[6.89,-0.3],[6.92,-0.4],[6.95,-0.2],[6.98,-0.5],[7.01,-0.3],[7.04,-0.4],[7.07,-0.2],[7.10,-0.25],[7.13,-0.15],[7.16,-0.3],[7.19,-0.5],[7.22,-0.7],[7.25,-0.8],[7.28,-0.9],[7.31,-0.85],[7.34,-0.6],[7.37,-0.4],[7.40,-0.2],[7.43,-0.15],[7.46,-0.25],[7.49,-0.4],[7.52,-0.6],[7.55,-0.7],[7.58,-0.5],[7.61,-0.3],[7.64,-0.2],[7.67,-0.3],[7.70,-0.25],[7.73,-0.4],[7.76,-0.3],[7.79,-0.35],[7.82,-0.5],[7.85,-0.6],[7.88,-0.5],[7.91,-0.4],[7.94,-0.5],[7.97,-0.7],[8.00,-0.5]];

// speed (km/h): [time, value]
const spdA1 = [[3.0,-39.9],[3.2,-39.7],[3.4,-40.1],[3.6,-39.6],[3.8,-40.0],[4.0,-39.7],[4.2,-39.9],[4.4,-39.6],[4.6,-40.0],[4.8,-39.7],[5.0,-39.9],[5.2,-39.6],[5.4,-40.0],[5.6,-39.8],[5.8,-40.1],[6.0,-39.7],[6.2,-40.0],[6.4,-39.8],[6.6,-40.1],[6.8,-39.7],[7.0,-39.6],[7.2,-40.0],[7.4,-39.7],[7.6,-40.1],[7.8,-39.8],[8.0,-40.0]];
const spdL1 = [[4.0,-40.1],[4.2,-39.8],[4.4,-40.3],[4.6,-39.9],[4.8,-40.4],[5.0,-40.0],[5.2,-40.5],[5.4,-40.0],[5.6,-40.6],[5.8,-40.1],[6.0,-40.4],[6.2,-40.0],[6.4,-40.5],[6.6,-40.2],[6.8,-40.5],[6.9,-39.8],[7.0,-40.4],[7.2,-40.7],[7.4,-40.3],[7.6,-40.6],[7.8,-40.2],[8.0,-40.5],[8.2,-40.8],[8.4,-40.4],[8.6,-40.7],[8.8,-40.5],[9.0,-40.6]];
const spdA2 = [[4.0,-39.2],[4.1,-39.7],[4.3,-39.4],[4.5,-39.6],[4.7,-39.3],[4.9,-39.6],[5.1,-39.3],[5.3,-39.7],[5.5,-39.4],[5.7,-39.6],[5.9,-39.2],[6.1,-39.6],[6.3,-39.3],[6.5,-39.7],[6.7,-39.4],[6.9,-39.6],[7.1,-39.3],[7.3,-39.7],[7.5,-39.5],[7.7,-39.1],[7.9,-39.5],[8.1,-39.3],[8.3,-39.6],[8.5,-39.4],[8.7,-39.6],[8.9,-39.2],[9.0,-39.4]];
const spdL2 = [[3.0,-40.4],[3.2,-40.7],[3.4,-40.3],[3.6,-40.6],[3.8,-40.2],[3.88,-40.8],[3.92,-40.0],[3.97,-41.0],[4.01,-40.0],[4.06,-41.1],[4.10,-39.8],[4.15,-41.2],[4.19,-39.9],[4.24,-41.0],[4.28,-40.0],[4.33,-41.1],[4.37,-39.9],[4.42,-41.0],[4.46,-40.1],[4.51,-41.2],[4.55,-40.0],[4.60,-41.0],[4.64,-39.8],[4.69,-41.1],[4.73,-40.0],[4.78,-41.2],[4.82,-39.7],[4.87,-41.3],[4.91,-39.9],[4.96,-41.4],[5.00,-39.8],[5.05,-41.2],[5.09,-40.0],[5.14,-41.3],[5.18,-40.1],[5.23,-41.0],[5.28,-40.2],[5.35,-40.8],[5.5,-40.4],[5.7,-40.7],[5.9,-40.3],[6.1,-40.6],[6.3,-40.2],[6.5,-40.6],[6.7,-40.3],[6.9,-40.7],[7.0,-40.2],[7.2,-40.6],[7.4,-40.5],[7.6,-40.8],[7.8,-40.4],[8.0,-40.6]];
const spdA3 = [[4.0,-40.1],[4.2,-39.8],[4.4,-40.3],[4.6,-39.8],[4.8,-40.2],[5.0,-39.9],[5.2,-40.3],[5.4,-39.8],[5.6,-40.2],[5.8,-39.9],[6.0,-40.3],[6.2,-39.9],[6.4,-40.1],[6.6,-39.8],[6.8,-40.2],[7.0,-39.9],[7.2,-40.3],[7.4,-39.8],[7.6,-40.1],[7.8,-39.9],[8.0,-40.2],[8.2,-39.8],[8.4,-40.1],[8.6,-39.9],[8.8,-40.2],[9.0,-40.0]];
const spdL3 = [[4.0,-39.8],[4.1,-40.2],[4.2,-39.9],[4.22,-42.5],[4.24,-40.0],[4.4,-40.3],[4.5,-39.8],[4.6,-40.2],[4.7,-39.9],[4.77,-40.3],[4.79,-43.5],[4.81,-40.0],[4.9,-40.2],[5.0,-39.8],[5.05,-41.8],[5.07,-40.0],[5.15,-40.3],[5.3,-39.9],[5.4,-40.3],[5.52,-41.5],[5.54,-40.0],[5.7,-40.3],[5.8,-39.8],[5.9,-40.2],[6.0,-39.8],[6.1,-40.2],[6.2,-40.0],[6.27,-40.2],[6.28,-44.0],[6.29,-40.2],[6.32,-40.1],[6.33,-44.0],[6.34,-40.1],[6.45,-40.3],[6.6,-39.9],[6.75,-40.3],[6.9,-40.0],[6.94,-40.2],[6.95,-43.0],[6.96,-40.1],[7.1,-40.3],[7.2,-39.9],[7.35,-40.3],[7.5,-40.0],[7.64,-40.2],[7.66,-45.0],[7.68,-40.1],[7.8,-40.3],[7.95,-39.9],[8.1,-40.3],[8.26,-40.1],[8.27,-44.0],[8.28,-40.1],[8.31,-40.0],[8.32,-43.0],[8.33,-40.0],[8.45,-40.3],[8.6,-39.9],[8.7,-40.3],[8.8,-40.0],[8.9,-40.4],[9.0,-40.1]];
const spdA4 = [[4.0,-39.9],[4.2,-40.2],[4.4,-39.8],[4.6,-40.1],[4.8,-39.8],[5.0,-40.2],[5.2,-39.9],[5.4,-40.3],[5.6,-39.6],[5.7,-40.2],[5.9,-39.9],[6.1,-40.2],[6.3,-39.9],[6.5,-40.1],[6.7,-39.8],[6.9,-40.2],[7.1,-39.9],[7.3,-40.1],[7.5,-39.9],[7.7,-40.2],[7.9,-39.9],[8.1,-40.3],[8.3,-39.9],[8.5,-40.2],[8.7,-40.0],[9.0,-40.2]];
const spdL4 = [[3.0,-40.2],[3.2,-40.4],[3.4,-40.0],[3.6,-40.4],[3.8,-40.0],[4.0,-40.3],[4.1,-39.6],[4.2,-40.6],[4.3,-39.8],[4.4,-40.5],[4.6,-40.0],[4.8,-40.4],[5.0,-40.0],[5.2,-40.4],[5.4,-40.1],[5.6,-40.4],[5.8,-40.0],[6.0,-40.3],[6.2,-40.1],[6.4,-40.5],[6.6,-40.1],[6.8,-40.4],[7.0,-40.1],[7.2,-40.5],[7.4,-40.2],[7.6,-40.4],[7.8,-40.1],[8.0,-40.3]];
const spdA5 = [[3.0,-39.9],[3.2,-39.7],[3.4,-40.1],[3.6,-39.8],[3.8,-40.2],[4.0,-39.8],[4.2,-40.1],[4.4,-39.9],[4.6,-39.3],[4.7,-40.1],[4.9,-39.8],[5.1,-40.2],[5.3,-39.9],[5.5,-40.2],[5.7,-39.8],[5.9,-40.1],[6.1,-39.8],[6.3,-40.2],[6.5,-39.9],[6.7,-40.2],[6.9,-40.0],[7.1,-40.3],[7.3,-40.0],[7.5,-40.4],[7.7,-40.1],[7.9,-40.4],[8.0,-40.2]];

// detection gate intervals (sec)
const gateA1 = [[3.42,6.27]];
const gateL1 = [[5.08,7.13]];
const gateA2 = [[5.17,5.86],[5.92,6.07]];
const gateL2 = [[3.86,5.31]];
const gateA3 = [[5.20,5.23],[5.25,5.28],[5.30,6.79]];
const gateL3 = [[5.17,5.19],[5.21,7.19]];
const gateA4 = [[5.01,6.90]];
const gateL4 = [[3.85,5.96]];
const gateA5 = [[4.18,5.85]];

const signals = [sigA1, sigL1, sigA2, sigL2, sigA3, sigL3, sigA4, sigL4, sigA5];
const speeds  = [spdA1, spdL1, spdA2, spdL2, spdA3, spdL3, spdA4, spdL4, spdA5];
const gates   = [gateA1, gateL1, gateA2, gateL2, gateA3, gateL3, gateA4, gateL4, gateA5];

// ---------- LAYOUT / STYLE ----------
const colLeft = [61, 780];
const rowTop = [26.5, 372.5, 708.5, 1044, 1378];
const PW = 363, PH = 264;
const NUMF = "'Liberation Sans', Arial, sans-serif";
const JPF = "'Noto Sans CJK JP', 'Noto Sans', sans-serif";
const AXC = "#1d2b55";
const RED = "#d0124c";
const svg = d3.select("#chart");

signals.forEach((sig, i) => {
  const col = i % 2, row = Math.floor(i / 2);
  const x0 = colLeft[col], top = rowTop[row];
  const x = d3.scaleLinear().domain(timeRanges[i]).range([x0, x0 + PW]);
  const y = d3.scaleLinear().domain([-8, 8]).range([top + PH, top]);
  const y2 = d3.scaleLinear().domain([-50, 50]).range([top + PH, top]);
  const g = svg.append("g");
  const clipId = "clip" + i;
  g.append("clipPath").attr("id", clipId).append("rect")
    .attr("x", x0).attr("y", top).attr("width", PW).attr("height", PH);

  // grid
  const [t0, t1] = timeRanges[i];
  const secTicks = d3.range(t0 + 1, t1);
  g.selectAll(".vg").data(secTicks).enter().append("line")
    .attr("x1", d => x(d)).attr("x2", d => x(d)).attr("y1", top).attr("y2", top + PH)
    .attr("stroke", "#3ea8bf").attr("stroke-width", 1);
  g.selectAll(".hg").data(leftTicks.filter(v => v > -8 && v < 8)).enter().append("line")
    .attr("x1", x0).attr("x2", x0 + PW).attr("y1", d => y(d)).attr("y2", d => y(d))
    .attr("stroke", "#6fc3d3").attr("stroke-width", 1).attr("stroke-dasharray", "2,1");

  const body = g.append("g").attr("clip-path", `url(#${clipId})`);
  // gate
  const gateLine = d3.line().x(d => x(d[0])).y(d => y2(d[1]));
  gates[i].forEach(iv => {
    body.append("path")
      .attr("d", gateLine([[iv[0], -50], [iv[0], gateLevel], [iv[1], gateLevel], [iv[1], -50]]))
      .attr("fill", "none").attr("stroke", "#2c3563").attr("stroke-width", 1.2);
  });
  // speed
  body.append("path").datum(speeds[i])
    .attr("d", d3.line().x(d => x(d[0])).y(d => y2(d[1])).curve(d3.curveMonotoneX))
    .attr("fill", "none").attr("stroke", i === 5 ? "#1a1f33" : "#3a5696").attr("stroke-width", 1);
  // load signal
  body.append("path").datum(sig)
    .attr("d", d3.line().x(d => x(d[0])).y(d => y(d[1])))
    .attr("fill", "none").attr("stroke", RED).attr("stroke-width", 1.3).attr("stroke-linejoin", "round");

  // axes
  const style = sel => {
    sel.select(".domain").remove();
    sel.selectAll("line").attr("stroke", AXC).attr("stroke-width", 1.2);
    sel.selectAll("text").attr("font-family", NUMF).attr("font-weight", "bold")
      .attr("font-size", 11).attr("fill", "#111");
  };
  const minorL = d3.range(-7, 8, 2);
  g.append("g").attr("transform", `translate(${x0},0)`)
    .call(d3.axisLeft(y).tickValues(leftTicks).tickSize(5).tickPadding(4)).call(style);
  g.append("g").attr("transform", `translate(${x0},0)`)
    .call(d3.axisLeft(y).tickValues(minorL).tickSize(3).tickFormat("")).call(style);
  g.append("g").attr("transform", `translate(${x0 + PW},0)`)
    .call(d3.axisRight(y2).tickValues(rightTicks).tickSizeInner(-6).tickSizeOuter(0).tickPadding(5)).call(style);
  g.append("g").attr("transform", `translate(${x0 + PW},0)`)
    .call(d3.axisRight(y2).tickValues(d3.range(-45, 50, 10)).tickSizeInner(-3).tickSizeOuter(0).tickFormat("")).call(style);
  g.append("g").attr("transform", `translate(0,${top + PH})`)
    .call(d3.axisBottom(x).tickValues(d3.range(t0, t1 + 0.001, 1)).tickSize(5).tickPadding(5).tickFormat(d3.format("d"))).call(style);
  g.append("g").attr("transform", `translate(0,${top + PH})`)
    .call(d3.axisBottom(x).tickValues(d3.range(t0 + 0.5, t1, 1)).tickSize(3).tickFormat("")).call(style);

  // frame
  g.append("rect").attr("x", x0).attr("y", top).attr("width", PW).attr("height", PH)
    .attr("fill", "none").attr("stroke", AXC).attr("stroke-width", 1.3);
  g.append("line").attr("x1", x0).attr("x2", x0 + PW).attr("y1", top).attr("y2", top)
    .attr("stroke", AXC).attr("stroke-width", 2.2);

  // texts
  g.append("text").attr("x", x0 + 2).attr("y", Math.max(top - 13, 22.5))
    .attr("font-family", JPF).attr("font-size", 16).attr("font-weight", 500).attr("fill", "#111")
    .text(caseTitles[i]);
  g.append("text").attr("x", x0 + PW / 2).attr("y", top + PH + 38).attr("text-anchor", "middle")
    .attr("font-family", NUMF).attr("font-weight", "bold").attr("font-size", 13).attr("fill", "#111")
    .text("time(sec)");
  g.append("text")
    .attr("transform", `translate(${x0 - 38},${top + PH / 2 - 7}) rotate(-90)`)
    .attr("text-anchor", "middle").attr("font-family", JPF).attr("font-weight", "bold")
    .attr("font-size", 13.5).attr("fill", "#111").text("軸重変動(tf)");
  g.append("text")
    .attr("transform", `translate(${x0 + PW + 45},${top + PH / 2 + 3}) rotate(-90)`)
    .attr("text-anchor", "middle").attr("font-family", JPF).attr("font-weight", "bold")
    .attr("font-size", 13.5).attr("fill", "#111").text("速度 (km/h)");
});
</script>
</body></html>
